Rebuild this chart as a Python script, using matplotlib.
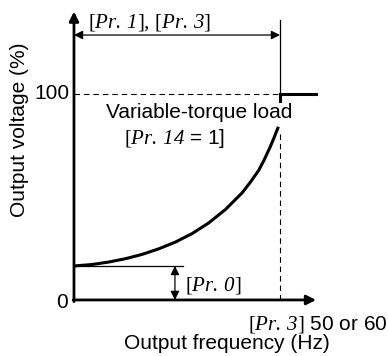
import matplotlib.pyplot as plt

plt.rcParams['font.family'] = 'Liberation Sans'
plt.rcParams['mathtext.fontset'] = 'custom'
plt.rcParams['mathtext.rm'] = 'Liberation Serif'
plt.rcParams['mathtext.it'] = 'Liberation Serif:italic'
plt.rcParams['mathtext.sf'] = 'Liberation Serif:italic'

# V/F curve (frequency as fraction of base frequency, voltage in %)
freq = [0.0, 0.087, 0.168, 0.249, 0.330, 0.411, 0.492, 0.573, 0.654,
        0.735, 0.816, 0.857, 0.897, 0.924, 0.951, 0.972, 0.992]
volt = [16.5, 17.2, 18.4, 20.0, 22.1, 24.8, 28.1, 32.2, 37.4,
        43.9, 52.0, 57.3, 63.0, 68.2, 74.0, 79.0, 84.1]
boost = 16.5          # Pr. 0 torque boost
base_freq = 1.0       # Pr. 3 base frequency
max_volt = 100
ytick_labels = ['0', '100']

fig = plt.figure(figsize=(3.88, 3.56), dpi=100)
ax = fig.add_axes([0, 0, 1, 1])
ax.set_xlim(-0.359, 1.524)
ax.set_ylim(-27.2, 145.6)
ax.axis('off')

black = 'black'
fs = 15

# axes with arrows
ax.annotate('', xy=(0, 140), xytext=(0, -0.8),
            arrowprops=dict(arrowstyle='-|>', lw=2, color=black, mutation_scale=14, shrinkA=0, shrinkB=0))
ax.annotate('', xy=(1.175, 0), xytext=(-0.004, 0),
            arrowprops=dict(arrowstyle='-|>', lw=2, color=black, mutation_scale=14, shrinkA=0, shrinkB=0))

# curve
ax.plot(freq, volt, color=black, lw=2.2, solid_capstyle='butt', solid_joinstyle='round')
ax.plot([base_freq, base_freq, 1.175], [96.5, max_volt, max_volt], color=black, lw=2.2,
        solid_joinstyle='miter')

# dashed guides
ax.plot([0, base_freq], [max_volt, max_volt], color=black, lw=0.8, ls=(0, (5, 3.5)))
ax.plot([base_freq, base_freq], [0, 82], color=black, lw=0.8, ls=(0, (5, 3.5)))

# Pr. 1 / Pr. 3 range
ax.plot([base_freq, base_freq], [max_volt, 136], color=black, lw=0.9)
ax.annotate('', xy=(0, 128.6), xytext=(base_freq, 128.6),
            arrowprops=dict(arrowstyle='<|-|>', lw=0.9, color=black, mutation_scale=13, shrinkA=0, shrinkB=0))

# Pr. 0 boost
ax.plot([0, 0.53], [boost, boost], color=black, lw=0.9)
ax.annotate('', xy=(0.49, boost), xytext=(0.49, 0),
            arrowprops=dict(arrowstyle='<|-|>', lw=0.9, color=black, mutation_scale=13, shrinkA=0, shrinkB=0))

# tick labels
ax.text(-0.02, max_volt, ytick_labels[1], fontsize=fs, ha='right', va='center')
ax.text(-0.03, -1, ytick_labels[0], fontsize=fs, ha='right', va='center')

# labels
ax.text(-0.262, 82.5, 'Output voltage (%)', fontsize=fs, rotation=90, ha='center', va='center')
ax.text(0.743, -20.9, 'Output frequency (Hz)', fontsize=fs, ha='center', va='center')
ax.text(0.845, -12.1, r'$[\mathsf{Pr.\,3}]$ 50 or 60', fontsize=fs, ha='left', va='center')
ax.text(0.609, 90.8, 'Variable-torque load', fontsize=fs, ha='center', va='center')
ax.text(0.243, 78.6, r'$[\mathsf{Pr.\,14}$ = 1]', fontsize=fs, ha='left', va='center')
ax.text(0.539, 6.8, r'$[\mathsf{Pr.\,0}]$', fontsize=fs, ha='left', va='center')
ax.text(0.068, 134.5, r'$[\mathsf{Pr.\,1}],\,[\mathsf{Pr.\,3}]$', fontsize=fs, ha='left', va='center')

plt.savefig('out.png', dpi=100)
